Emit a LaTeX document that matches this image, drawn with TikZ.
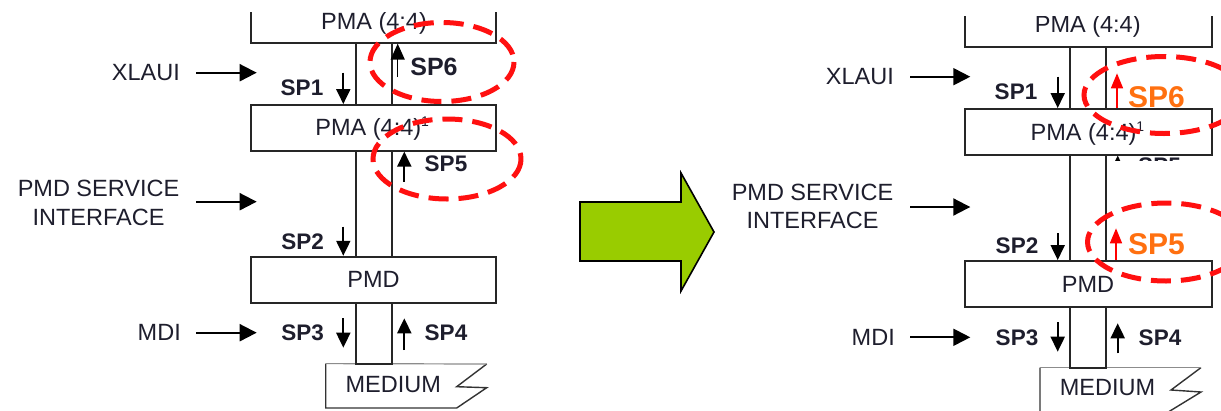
\documentclass[tikz,border=0pt]{standalone}
\usepackage{fontspec}
\setmainfont{Liberation Sans}
\usetikzlibrary{arrows.meta}
\definecolor{oran}{RGB}{255,112,16}
\definecolor{grn}{RGB}{153,204,0}
\definecolor{txt}{RGB}{30,30,45}
\definecolor{hlred}{RGB}{255,16,16}
\begin{document}
\begin{tikzpicture}[x=1pt,y=-1pt,
  wire/.style={line width=1.9pt, draw=black!85},
  boxn/.style={draw=black!85, line width=1.9pt, inner sep=0pt},
  lbl/.style={font=\fontsize{23.5}{28.5}\selectfont, text=txt, inner sep=0pt},
  capa/.style={text height=16.8pt, text depth=0pt},
  btx/.style={inner sep=0pt, text height=16.8pt, text depth=0pt, font=\fontsize{23.5}{26}\selectfont, text=txt},
  sp/.style={inner sep=0pt, text height=16.1pt, text depth=0pt, font=\bfseries\fontsize{22.5}{24}\selectfont, text=txt},
  spo/.style={inner sep=0pt, text height=21.5pt, text depth=0pt, font=\bfseries\fontsize{30}{32}\selectfont, text=oran},
  larrow/.style={line width=2pt, -{Triangle[length=17pt,width=17pt]}},
  sarrow/.style={line width=2pt, -{Triangle[length=15pt,width=14pt]}},
  tarrow/.style={line width=1.5pt, -{Triangle[length=16pt,width=14pt]}},
  rarrow/.style={draw=red, line width=1.5pt, -{Triangle[length=15pt,width=12pt]}, red},
  hl/.style={draw=hlred, line width=5pt, dash pattern=on 20pt off 10pt}]
\useasboundingbox (0,0) rectangle (1221,410);
\fill[white] (0,0) rectangle (1221,410);

% ================= LEFT PANEL =================
\begin{scope}
  \clip (200,12.7) rectangle (540,100);
  \node[boxn, minimum width=245.3pt, minimum height=62.7pt] (topL) at (373.35,11.35) {};
  \node[btx] (topLt) at (374,21.5) {PMA (4:4)};
\end{scope}
\node[boxn, minimum width=245.3pt, minimum height=45.7pt] (pmaL) at (373.35,127.85) {};
\node[btx] (pmaLt) at (372.5,127.5) {PMA (4:4)\textsuperscript{\fontsize{14}{14}\selectfont 1}};
\node[boxn, minimum width=245.3pt, minimum height=46pt] (pmdL) at (373.35,279.7) {};
\node[btx] (pmdLt) at (373.5,279) {PMD};
% wires
\draw[wire] (topL.south -| 356,0) -- (pmaL.north -| 356,0);
\draw[wire] (topL.south -| 391.7,0) -- (pmaL.north -| 391.7,0);
\draw[wire] (pmaL.south -| 356,0) -- (pmdL.north -| 356,0);
\draw[wire] (pmaL.south -| 391.7,0) -- (pmdL.north -| 391.7,0);
\coordinate (medTL) at (325.7,363.6);
\draw[line width=1.4pt, draw=black!80] (486.7,364) -- (456.7,386.7) -- (486.7,387.7) -- (456.7,408) -- (325.7,408) -- (medTL);
\draw[line width=1.2pt, draw=black!45] (medTL) -- (486.7,364);
\draw[wire] (pmdL.south -| 356,0) -- (356,364.3) -- (391.7,364.3) -- (pmdL.south -| 391.7,0);
\node[btx] (medL) at (393.3,384) {MEDIUM};
% side labels
\node[lbl, capa, anchor=east] (xlauiL) at (180,72.5) {XLAUI};
\node[lbl, align=center] (pmdsL) at (98.5,203) {PMD SERVICE\\INTERFACE};
\node[lbl, capa, anchor=east] (mdiL) at (181,332.5) {MDI};
\coordinate (xlauiLe) at (256.7,72.7);
\coordinate (pmdsLe) at (256.7,201.7);
\coordinate (mdiLe) at (256.7,332.7);
\draw[larrow] (196,72.7) coordinate (xa) -- (xlauiLe);
\draw[larrow] (196,201.7) coordinate (pa) -- (pmdsLe);
\draw[larrow] (196,332.7) coordinate (ma) -- (mdiLe);
% SP labels
\node[sp] (sp1L) at (302,87.5) {SP1};
\node[sp] (sp2L) at (302.7,241) {SP2};
\node[sp] (sp3L) at (302.7,332.5) {SP3};
\node[sp] (sp4L) at (446,332.5) {SP4};
\node[sp] (sp5L) at (446,163.5) {SP5};
\node[sp, text height=17.9pt, font=\bfseries\fontsize{25}{27}\selectfont] (sp6L) at (434,67) {SP6};
\draw[sarrow] (343.3,72.7) coordinate (s1a) -- (pmaL.north -| 343.3,0);
\draw[sarrow] (343.3,226.7) coordinate (s2a) -- (pmdL.north -| 343.3,0);
\draw[sarrow] (343.3,318.3) coordinate (s3a) -- (343.3,347.7) coordinate (s3b);
\draw[sarrow] (404.3,350) coordinate (s4a) -- (404.3,318.3) coordinate (s4b);
\draw[sarrow] (404.3,181.7) coordinate (s5a) -- (pmaL.south -| 404.3,0);
\draw[tarrow] (397.7,77) coordinate (s6a) -- (topL.south -| 397.7,0);
% highlight ellipses
\draw[hl] (442,62) ellipse [x radius=72, y radius=39.5];
\draw[hl] (447,159) ellipse [x radius=74, y radius=40];

% ================= ARROW =================
\draw[line width=1.6pt, fill=grn, line join=miter] (580,202) -- (681,202) -- (681,173) -- (714,232) -- (681,291) -- (681,261) -- (580,261) -- cycle;

% ================= RIGHT PANEL =================
\begin{scope}
  \clip (900,16) rectangle (1221,100);
  \node[boxn, minimum width=246.7pt, minimum height=62.7pt] (topR) at (1088.65,15.35) {};
  \node[btx] (topRt) at (1087.7,24.5) {PMA (4:4)};
\end{scope}
\node[boxn, minimum width=246.7pt, minimum height=46pt] (pmaR) at (1088.65,132) {};
\node[btx] (pmaRt) at (1087.7,131.7) {PMA (4:4)\textsuperscript{\fontsize{14}{14}\selectfont 1}};
\node[boxn, minimum width=246.7pt, minimum height=45.7pt] (pmdR) at (1088.65,283.85) {};
\node[btx] (pmdRt) at (1088,284) {PMD};
\draw[wire] (topR.south -| 1070,0) -- (pmaR.north -| 1070,0);
\draw[wire] (topR.south -| 1106,0) -- (pmaR.north -| 1106,0);
\draw[wire] (pmaR.south -| 1070,0) -- (pmdR.north -| 1070,0);
\draw[wire] (pmaR.south -| 1106,0) -- (pmdR.north -| 1106,0);
\coordinate (medTR) at (1040,367.6);
\draw[line width=1.4pt, draw=black!80] (1201,367.6) -- (1171,390) -- (1201,392) -- (1165,414) (1040,414) -- (medTR);
\draw[line width=1.2pt, draw=black!45] (medTR) -- (1201,367.6);
\draw[wire] (pmdR.south -| 1070,0) -- (1070,368.3) -- (1106,368.3) -- (pmdR.south -| 1106,0);
\node[btx] (medR) at (1107.5,387.3) {MEDIUM};
% residual clipped SP5
\begin{scope}
  \clip (1110,155.6) rectangle (1221,160.5);
  \node[sp] (sp5Rold) at (1159.5,165) {SP5};
  \draw[sarrow] (1117.7,186) coordinate (o5a) -- (1117.7,155.5) coordinate (o5b);
\end{scope}
% side labels
\node[lbl, capa, anchor=east] (xlauiR) at (894,76.5) {XLAUI};
\node[lbl, align=center, font=\fontsize{23.5}{28.8}\selectfont] (pmdsR) at (812.5,206.4) {PMD SERVICE\\INTERFACE};
\node[lbl, capa, anchor=east] (mdiR) at (895,337.5) {MDI};
\coordinate (xlauiRe) at (970.3,76.7);
\coordinate (pmdsRe) at (970.3,207);
\coordinate (mdiRe) at (970.3,337.3);
\draw[larrow] (910.3,76.7) coordinate (xb) -- (xlauiRe);
\draw[larrow] (910.3,207) coordinate (pb) -- (pmdsRe);
\draw[larrow] (910.3,337.3) coordinate (mb) -- (mdiRe);
\node[sp] (sp1R) at (1016,91.7) {SP1};
\node[sp] (sp2R) at (1017,245) {SP2};
\node[sp] (sp3R) at (1017,337.5) {SP3};
\node[sp] (sp4R) at (1160,337.5) {SP4};
\node[spo] (sp6R) at (1156.5,97) {SP6};
\node[spo] (sp5R) at (1156.5,243.3) {SP5};
\draw[sarrow] (1057.7,76.7) coordinate (r1a) -- (pmaR.north -| 1057.7,0);
\draw[sarrow] (1057.7,233.3) coordinate (r2a) -- (pmdR.north -| 1057.7,0);
\draw[sarrow] (1057.7,322.3) coordinate (r3a) -- (1057.7,351.7) coordinate (r3b);
\draw[sarrow] (1117.7,353.3) coordinate (r4a) -- (1117.7,323.3) coordinate (r4b);
\draw[rarrow] (pmaR.north -| 1117,0) -- (1117,73.3) coordinate (r6b);
\draw[rarrow] (pmdR.north -| 1116,0) -- (1116,228.3) coordinate (r5b);
\draw[hl] (1164,95) ellipse [x radius=80, y radius=38.5];
\draw[hl] (1166,242) ellipse [x radius=78.5, y radius=39];
\end{tikzpicture}
\end{document}
